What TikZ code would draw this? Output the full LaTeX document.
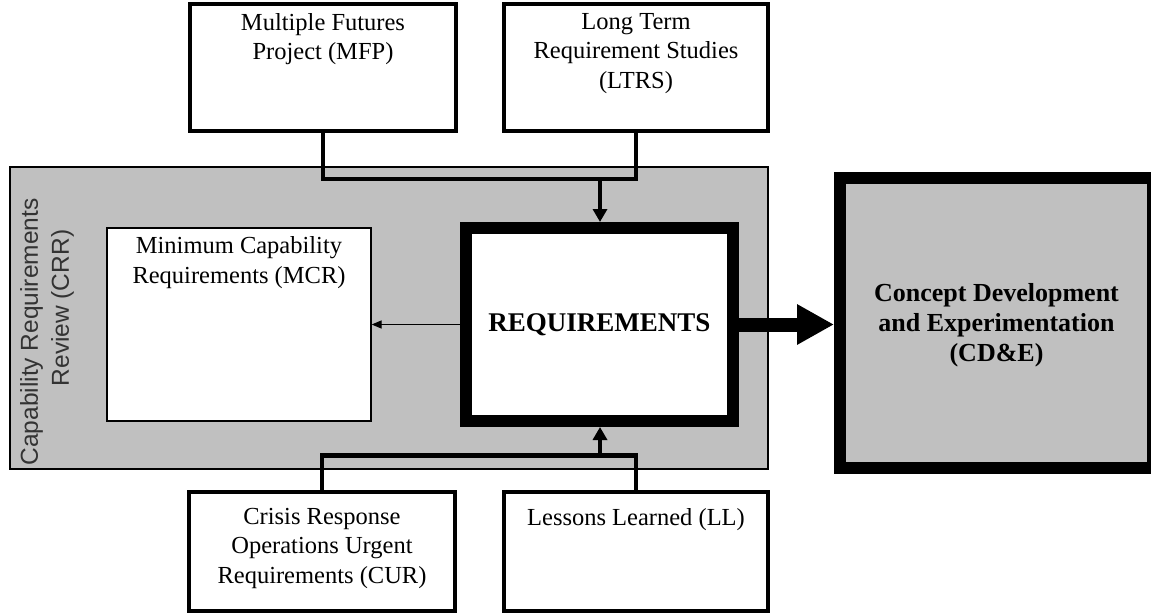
\documentclass[tikz,border=0pt]{standalone}
\usepackage{fontspec}
\setmainfont{Liberation Serif}
\setsansfont{Liberation Sans}
\usetikzlibrary{arrows.meta}
\definecolor{boxgray}{HTML}{C0C0C0}
\begin{document}
\begin{tikzpicture}[x=1pt,y=-1pt,
  box/.style={draw, line width=4pt, fill=white, inner sep=0pt, rectangle},
  heavy/.style={draw, line width=12pt, inner sep=0pt, rectangle},
  txt/.style={font=\fontsize{24.5}{29.5}\selectfont, align=center, inner sep=0pt, anchor=north},
  boldtxt/.style={font=\fontsize{26}{30}\selectfont\bfseries, align=center, inner sep=0pt},
  conn/.style={line width=4.5pt},
  arr/.style={line width=4.5pt, -{Triangle[length=13pt,width=14pt]}},
]
\useasboundingbox (0,0) rectangle (1151,613);

% containers and boxes
\node[draw, line width=1.5pt, fill=boxgray, minimum width=758pt, minimum height=302pt, inner sep=0pt] (crr) at (389,318) {};
\node[draw, line width=1.2pt, fill=white, minimum width=264pt, minimum height=193pt, inner sep=0pt] (mcr) at (239,324.5) {};
\node[heavy, fill=white, minimum width=267pt, minimum height=193pt] (req) at (599.5,324.5) {};
\node[heavy, fill=boxgray, minimum width=313pt, minimum height=290pt] (cde) at (996.5,323) {};
\node[box, minimum width=266pt, minimum height=127pt] (mfp) at (323,67.5) {};
\node[box, minimum width=264pt, minimum height=127pt] (ltrs) at (636,67.5) {};
\node[box, minimum width=266pt, minimum height=119pt] (cur) at (322,551.5) {};
\node[box, minimum width=264pt, minimum height=119pt] (ll) at (636,551.5) {};

% texts
\node[txt] (mfpt) at ([yshift=-11pt]mfp.north) {Multiple Futures\\Project (MFP)};
\node[txt] (ltrst) at ([yshift=-11pt]ltrs.north) {Long Term\\Requirement Studies\\(LTRS)};
\node[txt] (mcrt) at ([yshift=-9pt]mcr.north) {Minimum Capability\\Requirements (MCR)};
\node[txt] (curt) at ([yshift=-18pt]cur.north) {Crisis Response\\Operations Urgent\\Requirements (CUR)};
\node[txt] (llt) at ([yshift=-18pt]ll.north) {Lessons Learned (LL)};
\node[boldtxt, font=\fontsize{27}{30}\selectfont\bfseries] (reqt) at (req.center) {REQUIREMENTS};
\node[boldtxt] (cdet) at ([yshift=-2pt]cde.center) {Concept Development\\and Experimentation\\(CD\&E)};
\node[rotate=90, font=\sffamily\fontsize{24.5}{31}\selectfont, text=black!80, align=center, inner sep=0pt] (crrt) at (47,332) {Capability Requirements\\\hspace*{48pt}Review (CRR)};

% connectors
\coordinate (tb) at (600,179);
\coordinate (bb) at (600,455.5);
\draw[conn] (mfp.south) |- (tb) -| (ltrs.south);
\draw[arr] (tb) -- (tb |- req.north);
\draw[conn] (cur.north) |- (bb) -| (ll.north);
\draw[arr] (bb) -- (bb |- req.south);
\draw[line width=1.2pt, -{Triangle[length=10pt,width=8pt]}] (req.west) -- (mcr.east);
\draw[line width=14pt, -{Triangle[length=37pt,width=38pt]}] (req.east) -- (req.east -| cde.west);
\end{tikzpicture}
\end{document}
